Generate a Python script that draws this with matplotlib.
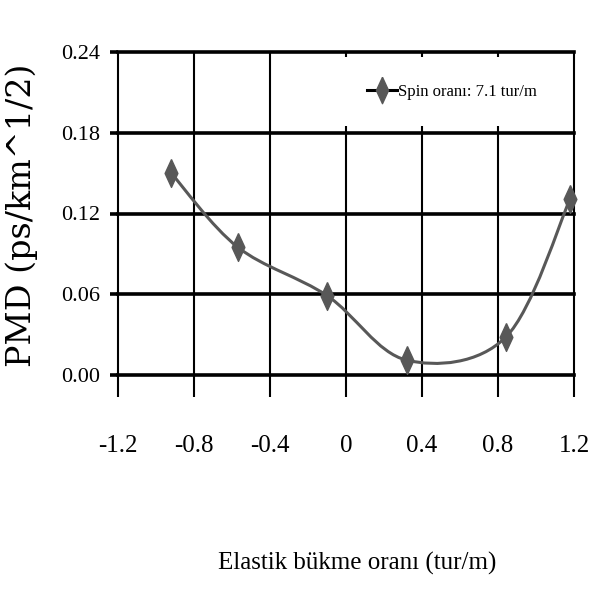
import numpy as np
import matplotlib
matplotlib.use('Agg')
import matplotlib.pyplot as plt
from matplotlib.path import Path
from matplotlib.patches import PathPatch
from matplotlib.lines import Line2D

# Veriler
bukme = [-0.92, -0.57, -0.10, 0.32, 0.84, 1.18]
pmd = [0.150, 0.095, 0.059, 0.011, 0.028, 0.131]
x_ticks = [-1.2, -0.8, -0.4, 0, 0.4, 0.8, 1.2]
x_labels = ['-1.2', '-0.8', '-0.4', '0', '0.4', '0.8', '1.2']
y_ticks = [0.00, 0.06, 0.12, 0.18, 0.24]
y_labels = ['0.00', '0.06', '0.12', '0.18', '0.24']

serif = 'Liberation Serif'
gri = '#585858'

fig = plt.figure(figsize=(5.97, 5.89), dpi=100)
ax = fig.add_axes([118/597, 1 - 375/589, 456/597, 323/589])
ax.set_xlim(-1.2, 1.2)
ax.set_ylim(0, 0.24)
for s in ax.spines.values():
    s.set_visible(False)

# kalin yatay, ince dikey izgara cizgileri
for yv in y_ticks:
    ax.axhline(yv, color='black', lw=2.6, zorder=1, clip_on=False)
for xv in x_ticks:
    ax.axvline(xv, color='black', lw=1.5, zorder=1, clip_on=False)

ax.set_xticks(x_ticks)
ax.set_xticklabels(x_labels, fontfamily=serif, fontsize=18)
ax.set_yticks(y_ticks)
ax.set_yticklabels(y_labels, fontfamily=serif, fontsize=16)
ax.tick_params(axis='x', direction='out', length=16, width=1.5, pad=27)
ax.tick_params(axis='y', direction='out', length=6, width=2.6, pad=7)

# Excel tarzi yumusatilmis cizgi (Catmull-Rom -> Bezier)
pts = np.column_stack([bukme, pmd])
ext = np.vstack([pts[0], pts, pts[-1]])
verts = [pts[0]]
codes = [Path.MOVETO]
for i in range(1, len(ext) - 2):
    p0, p1, p2, p3 = ext[i - 1], ext[i], ext[i + 1], ext[i + 2]
    verts += [p1 + (p2 - p0) / 6, p2 - (p3 - p1) / 6, p2]
    codes += [Path.CURVE4] * 3
ax.add_patch(PathPatch(Path(verts, codes), fill=False, edgecolor=gri,
                       lw=2.2, zorder=3, clip_on=False))

elmas = [(0, 1), (0.46, 0), (0, -1), (-0.46, 0), (0, 1)]
ax.plot(bukme, pmd, linestyle='none', marker=elmas, markersize=20,
        color=gri, zorder=4, clip_on=False)

tutamak = Line2D([], [], color='black', lw=2.2, marker=elmas, markersize=19,
                 markerfacecolor=gri, markeredgecolor=gri)
leg = ax.legend([tutamak], ['Spin oranı: 7.1 tur/m'], loc='upper right',
                bbox_to_anchor=(0.978, 0.985), prop={'family': serif, 'size': 12},
                frameon=True, fancybox=False, framealpha=1, edgecolor='none',
                facecolor='white', handlelength=1.8, handletextpad=0.1,
                borderpad=1.6, borderaxespad=0)
leg.set_zorder(5)

fig.text(357/597, 1 - 563/589, 'Elastik bükme oranı (tur/m)', fontfamily=serif,
         fontsize=18, ha='center', va='center')
fig.text(22/597, 1 - 215/589, 'PMD (ps/km^1/2)', fontfamily='DejaVu Serif',
         fontsize=24, rotation=90, ha='center', va='center')

fig.savefig('out.png', dpi=100)
